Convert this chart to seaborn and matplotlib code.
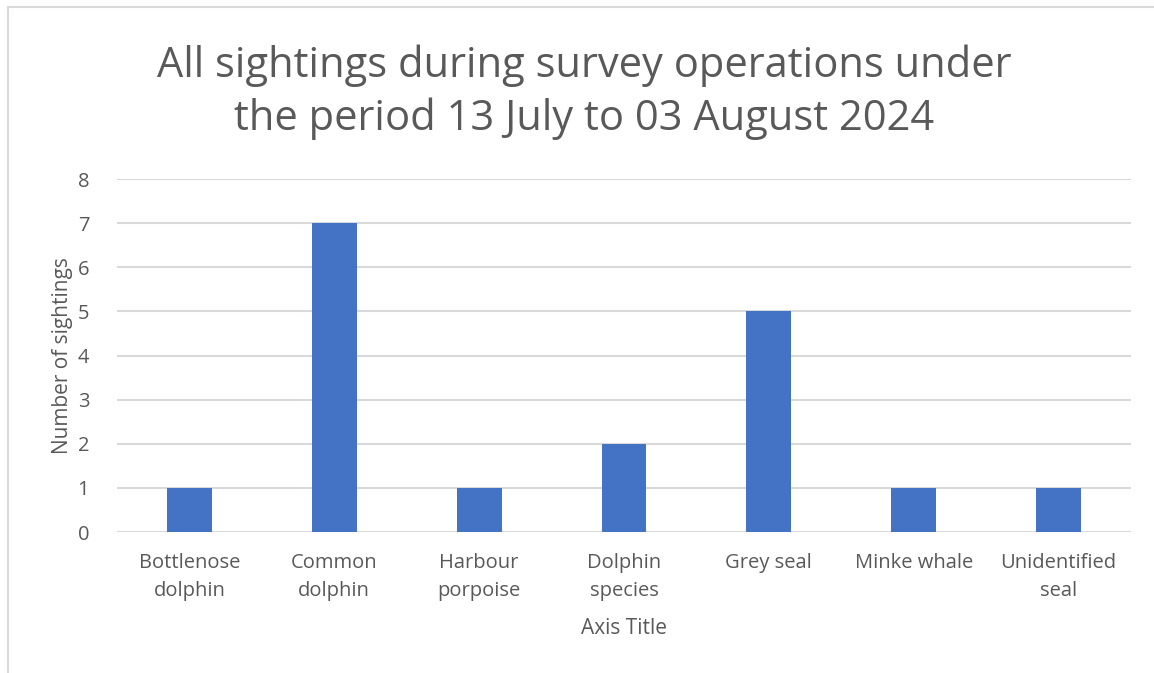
import matplotlib
matplotlib.use("Agg")
import matplotlib.pyplot as plt
import seaborn as sns
import pandas as pd
from matplotlib.lines import Line2D

# data
species = ["Bottlenose\ndolphin", "Common\ndolphin", "Harbour\nporpoise", "Dolphin\nspecies",
           "Grey seal", "Minke whale", "Unidentified\nseal"]
sightings = [1, 7, 1, 2, 5, 1, 1]

df = pd.DataFrame({"species": species, "sightings": sightings})

sns.set_theme(style="white")
plt.rcParams['font.family'] = ['Open Sans', 'DejaVu Sans']
grey_text = "#595959"

fig = plt.figure(figsize=(11.54, 6.73), dpi=100)
ax = fig.add_axes([0.1014, 0.2095, 0.8786, 0.5245])

sns.barplot(data=df, x="species", y="sightings", color="#4472C4", saturation=1,
            width=0.31, linewidth=0, ax=ax, zorder=3)

ax.set_ylim(0, 8)
ax.set_yticks(range(0, 9))
ax.yaxis.grid(True, color="#d9d9d9", linewidth=1.5, zorder=0)
ax.set_axisbelow(True)
for s in ax.spines.values():
    s.set_visible(False)
ax.tick_params(axis="both", length=0, labelsize=14.5, labelcolor=grey_text)
ax.tick_params(axis="y", pad=20)
ax.tick_params(axis="x", pad=15)
for t in ax.get_xticklabels():
    t.set_linespacing(1.55)

ax.set_xlabel("Axis Title", fontsize=15, color=grey_text, labelpad=12)
ax.set_ylabel("Number of sightings", fontsize=15, color=grey_text, labelpad=3)

fig.text(0.506, 0.8626, "All sightings during survey operations under\nthe period 13 July to 03 August 2024",
         ha="center", va="center", fontsize=30, color=grey_text, linespacing=1.32)

# chart-area border (left and top visible)
fig.add_artist(Line2D([0.0065, 0.0065], [0, 0.99], transform=fig.transFigure, color="#d9d9d9", lw=1.5))
fig.add_artist(Line2D([0.0065, 1], [0.99, 0.99], transform=fig.transFigure, color="#d9d9d9", lw=1.5))

fig.savefig("out.png", dpi=100)
